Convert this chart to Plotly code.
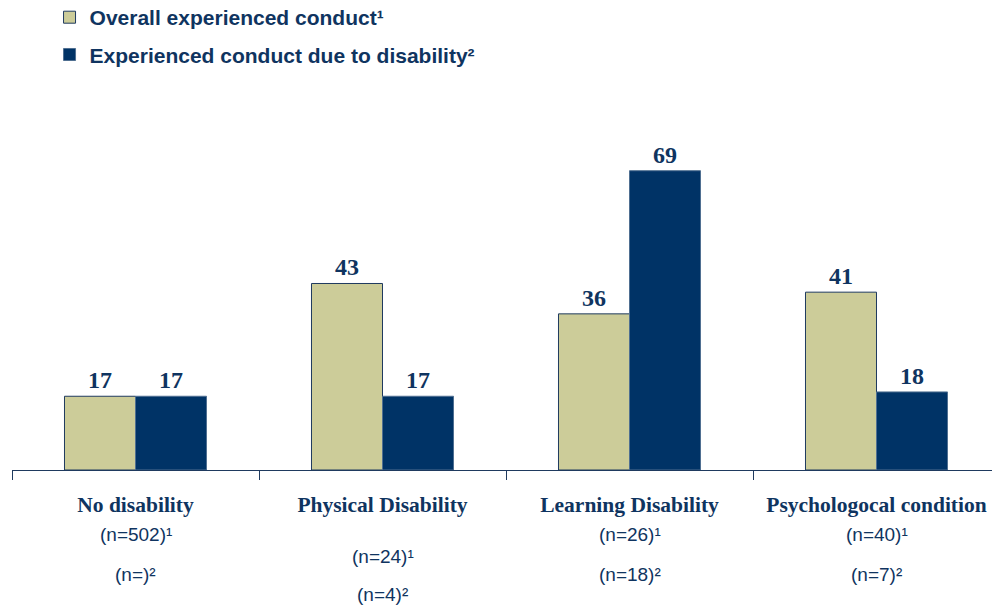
import plotly.graph_objects as go

categories = ["No disability", "Physical Disability", "Learning Disability", "Psychologocal condition"]
overall = [17, 43, 36, 41]
due_to_disability = [17, 17, 69, 18]
n_overall = ["(n=502)¹", "(n=24)¹", "(n=26)¹", "(n=40)¹"]
n_disability = ["(n=)²", "(n=4)²", "(n=18)²", "(n=7)²"]

series_names = ["Overall experienced conduct¹", "Experienced conduct due to disability²"]

LIGHT = "#CCCC99"
DARK = "#003366"
TEXT = "#0F3460"
SERIF = "Liberation Serif, Times New Roman, serif"
SANS = "Liberation Sans, Arial, sans-serif"

fig = go.Figure()
fig.add_trace(go.Bar(
    x=categories, y=overall, name=series_names[0], legendgroup="a",
    marker=dict(color=LIGHT, line=dict(color="#1F3A5F", width=1)),
    text=overall, textposition="outside", cliponaxis=False,
    textfont=dict(family=SERIF, size=24, color=TEXT),
    texttemplate="<b>%{text}</b>",
))
fig.add_trace(go.Bar(
    x=categories, y=due_to_disability, name=series_names[1], legendgroup="b",
    marker=dict(color=DARK, line=dict(color="#4F6F91", width=1)),
    text=due_to_disability, textposition="outside", cliponaxis=False,
    textfont=dict(family=SERIF, size=24, color=TEXT),
    texttemplate="<b>%{text}</b>",
))

# n-labels below each category (pixel offsets below the axis line)
n1_shift = [64, 86, 64, 64]
n2_shift = [104, 124, 104, 104]
for i, c in enumerate(categories):
    fig.add_annotation(x=c, y=0, xref="x", yref="y", text=n_overall[i],
                       showarrow=False, yshift=-n1_shift[i], yanchor="middle",
                       font=dict(family=SANS, size=19, color=TEXT))
    fig.add_annotation(x=c, y=0, xref="x", yref="y", text=n_disability[i],
                       showarrow=False, yshift=-n2_shift[i], yanchor="middle",
                       font=dict(family=SANS, size=19, color=TEXT))

fig.update_layout(
    width=1000, height=607,
    margin=dict(l=4, r=8, t=115, b=145, autoexpand=False),
    paper_bgcolor="white", plot_bgcolor="white",
    barmode="group", bargap=0.425, bargroupgap=0,
    showlegend=True,
    legend=dict(
        x=0.038, y=1.363, xanchor="left", yanchor="top",
        font=dict(family=SANS, size=21, color=TEXT, weight="bold"),
        traceorder="grouped", tracegroupgap=7,
        bgcolor="rgba(0,0,0,0)", itemwidth=30,
    ),
    xaxis=dict(
        type="category", showline=True, linecolor="#1F3A5F", linewidth=1,
        ticks="outside", tickson="boundaries", ticklen=9, tickcolor="#1F3A5F",
        tickvals=categories,
        ticktext=["<b>" + c + "</b>" for c in categories],
        tickfont=dict(family=SERIF, size=21.5, color=TEXT),
        ticklabelstandoff=15,
        showgrid=False, zeroline=False,
    ),
    yaxis=dict(range=[0, 80], visible=False, showgrid=False, zeroline=False),
)

fig.write_html("out.html")
